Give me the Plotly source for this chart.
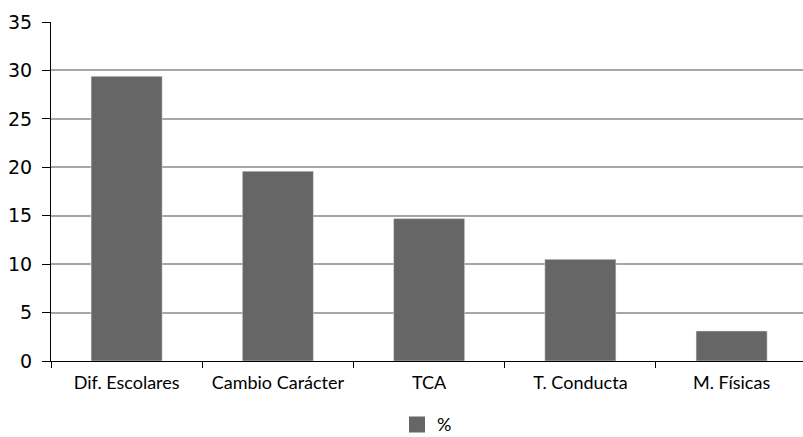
import plotly.graph_objects as go

categories = ["Dif. Escolares", "Cambio Carácter", "TCA", "T. Conducta", "M. Físicas"]
values = [29.4, 19.6, 14.7, 10.5, 3.1]
series_name = "%"
bar_color = "#666666"

fig = go.Figure()
fig.add_trace(go.Bar(
    x=categories, y=values, marker_color=bar_color,
    name=series_name, showlegend=False,
))
# legend swatch drawn as a larger square
fig.add_trace(go.Scatter(
    x=[None], y=[None], mode="markers", name=series_name,
    marker=dict(symbol="square", size=20, color=bar_color),
))

fig.update_layout(
    width=803, height=437,
    margin=dict(l=51, r=0, t=22, b=76),
    plot_bgcolor="white", paper_bgcolor="white",
    bargap=0.53,
    font=dict(family="Lato, Open Sans, sans-serif", color="#000000"),
    showlegend=True,
    legend=dict(orientation="h", x=0.5, xanchor="center",
                yref="container", y=0.028, yanchor="middle",
                font=dict(size=18), itemwidth=30),
)
fig.update_xaxes(
    type="category", range=[-0.5, 4.472],
    showline=True, linecolor="black", linewidth=1,
    ticks="outside", tickson="boundaries", ticklen=6, tickcolor="black",
    tickfont=dict(size=18, family="Lato, sans-serif"),
    ticklabelstandoff=5, automargin=False,
    showgrid=False,
)
fig.update_yaxes(
    range=[0, 35], dtick=5,
    showline=True, linecolor="black", linewidth=1,
    ticks="outside", ticklen=8, tickcolor="black",
    tickfont=dict(size=19, family="DejaVu Sans, sans-serif"),
    ticklabelstandoff=6, automargin=False,
    showgrid=True, gridcolor="#a6a6a6", gridwidth=1.5,
    zeroline=False,
)

fig.write_html("out.html")
